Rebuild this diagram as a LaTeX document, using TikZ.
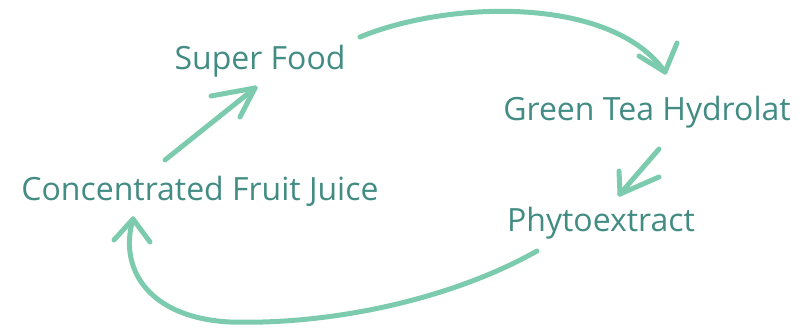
\documentclass[tikz,border=0pt]{standalone}
\usepackage{fontspec}
\setmainfont{Open Sans}
\definecolor{txtcol}{RGB}{66,140,131}
\definecolor{arrcol}{RGB}{125,203,175}
\begin{document}
\begin{tikzpicture}[x=1pt,y=-1pt,
  lbl/.style={font=\fontsize{32}{36}\selectfont, text=txtcol, inner sep=0pt, anchor=base},
  brush/.style={draw=arrcol, line width=5pt, line cap=round, line join=round},
  barb/.style={draw=arrcol, line width=5pt, line cap=round}]
\useasboundingbox (0,0) rectangle (810,331);
% labels
\node[lbl] (sf) at (260,70) {Super Food};
\node[lbl] (gt) at (647,121) {Green Tea Hydrolat};
\node[lbl] (px) at (601,231) {Phytoextract};
\node[lbl] (cf) at (200,200) {Concentrated Fruit Juice};
% arrow 1: Concentrated -> Super Food
\coordinate (a1s) at (165,160);
\coordinate (a1t) at (255,88);
\draw[brush] (a1s) -- (a1t);
\draw[barb] (a1t) -- (211,96);
\draw[barb] (a1t) -- (240,117);
% arrow 2: Super Food -> Green Tea
\coordinate (a2s) at (360,37);
\coordinate (a2t) at (665,72);
\draw[brush] (a2s) .. controls (450,0) and (612,-4) .. (a2t);
\draw[barb] (a2t) -- (677,43);
\draw[barb] (a2t) -- (639,56);
% arrow 3: Green Tea -> Phytoextract
\coordinate (a3s) at (659,149);
\coordinate (a3t) at (620,194);
\draw[brush] (a3s) -- (a3t);
\draw[barb] (a3t) -- (619,171);
\draw[barb] (a3t) -- (659,177);
% arrow 4: Phytoextract -> Concentrated
\coordinate (a4s) at (537,251);
\coordinate (a4m) at (230,322);
\coordinate (a4t) at (133,219);
\draw[brush] (a4s) .. controls (450,300) and (330,325) .. (a4m)
  .. controls (150,318) and (118,270) .. (a4t);
\draw[barb] (a4t) -- (114,240);
\draw[barb] (a4t) -- (150,242);
\end{tikzpicture}
\end{document}
